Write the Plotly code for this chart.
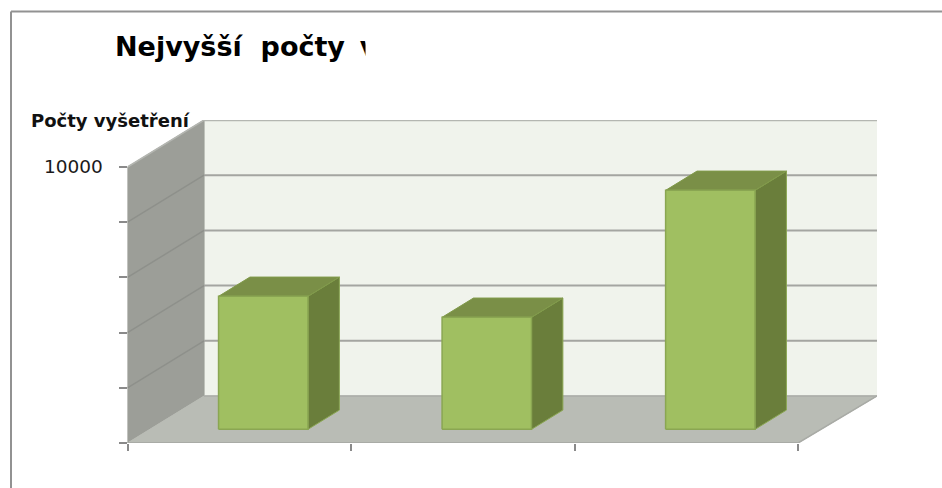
import plotly.graph_objects as go

WIDTH, HEIGHT = 942, 488

# Data
title_text = "Nejvyšší\u00a0 počty\u2009 v"
y_title = "Počty vyšetření"
bar_positions = [0, 1, 2]
bar_values = [4820, 4060, 8660]
y_ticks = [0, 2000, 4000, 6000, 8000, 10000]
y_tick_labels = ["", "", "", "", "", "10000"]
x_ticks = [0, 1, 2, 3]

# Pseudo-3D projection constants (style)
DX, DY = 0.3425, 1703
X_MAX = 3.353
BAR_L, BAR_R = 0.308, 0.708
BAR_D0, BAR_D1 = 0.29, 0.70

WALL = "#F0F3EC"
SIDE = "#9C9E98"
FLOOR = "#B9BCB5"
GRID = "#A4A5A1"
FRONT = "#A0BF61"
TOP = "#7A8F47"
RIGHT = "#6A7E3B"
EDGE = "#8AA652"


def proj(x, v, d):
    return x + d * DX, v + d * DY


def poly(points, fill, line=None, width=1):
    xs = [p[0] for p in points] + [points[0][0]]
    ys = [p[1] for p in points] + [points[0][1]]
    return go.Scatter(
        x=xs, y=ys, mode="lines", fill="toself", fillcolor=fill,
        line=dict(color=line or fill, width=width),
        hoverinfo="skip", showlegend=False,
    )


def seg(p0, p1, color=GRID, width=2):
    return go.Scatter(
        x=[p0[0], p1[0]], y=[p0[1], p1[1]], mode="lines",
        line=dict(color=color, width=width),
        hoverinfo="skip", showlegend=False,
    )


fig = go.Figure()
top_v = y_ticks[-1]

# back wall and side wall
fig.add_trace(poly([proj(0, 0, 1), (X_MAX, DY), (X_MAX, top_v + DY), proj(0, top_v, 1)], WALL))
fig.add_trace(poly([proj(0, 0, 0), proj(0, 0, 1), proj(0, top_v, 1), proj(0, top_v, 0)], SIDE))

# gridlines
for v in y_ticks[1:]:
    color = "#B4B6B1" if v == top_v else GRID
    fig.add_trace(seg(proj(0, v, 1), (X_MAX, v + DY), color, 2.5 if v == top_v else 2))
    fig.add_trace(seg(proj(0, v, 0), proj(0, v, 1), "#B4B6B1" if v == top_v else "#8E908B", 1.5))

# floor
fig.add_trace(poly([proj(0, 0, 0), proj(3, 0, 0), (X_MAX, DY), proj(0, 0, 1)], FLOOR))
fig.add_trace(seg(proj(0, 0, 0), proj(3, 0, 0), "#A9ABA6", 2))
fig.add_trace(seg(proj(3, 0, 0), (X_MAX, DY), "#A9ABA6", 1.5))
fig.add_trace(seg(proj(0, 0, 1), (X_MAX, DY), "#ABADA8", 1.5))

# bars
for pos, val in zip(bar_positions, bar_values):
    l, r = pos + BAR_L, pos + BAR_R
    fig.add_trace(poly([proj(r, 0, BAR_D0), proj(r, 0, BAR_D1), proj(r, val, BAR_D1), proj(r, val, BAR_D0)], RIGHT, EDGE))
    fig.add_trace(poly([proj(l, val, BAR_D0), proj(r, val, BAR_D0), proj(r, val, BAR_D1), proj(l, val, BAR_D1)], TOP, "#809A4A"))
    fig.add_trace(poly([proj(l, 0, BAR_D0), proj(r, 0, BAR_D0), proj(r, val, BAR_D0), proj(l, val, BAR_D0)], FRONT, EDGE, 1.5))

# clipped title: real text in its own small subplot
fig.add_trace(go.Scatter(
    x=[0], y=[0.5], mode="text", text=[f"<b>{title_text}</b>"], textposition="middle right",
    textfont=dict(family="DejaVu Sans", size=27, color="#000000"),
    cliponaxis=True, xaxis="x2", yaxis="y2", hoverinfo="skip", showlegend=False,
))

fig.update_layout(
    width=WIDTH, height=HEIGHT,
    margin=dict(l=0, r=0, t=0, b=0),
    paper_bgcolor="#FFFFFF", plot_bgcolor="rgba(0,0,0,0)",
    showlegend=False,
    xaxis=dict(
        domain=[127.5 / WIDTH, 877 / WIDTH], range=[0, X_MAX], showgrid=False, zeroline=False,
        showline=False, tickmode="array", tickvals=x_ticks, ticktext=["", "", "", ""],
        ticks="outside", ticklen=7, tickwidth=1.5, tickcolor="#8A8A8A",
    ),
    yaxis=dict(
        domain=[1 - 443 / HEIGHT, 1 - 120 / HEIGHT], range=[0, top_v + DY], showgrid=False, zeroline=False,
        showline=False, tickmode="array", tickvals=y_ticks, ticktext=y_tick_labels,
        ticks="outside", ticklen=8, tickwidth=1.5, tickcolor="#8A8A8A",
        tickfont=dict(family="DejaVu Sans", size=18.5, color="#1A1A1A"), ticklabelstandoff=12,
    ),
    xaxis2=dict(domain=[115 / WIDTH, 365.5 / WIDTH], range=[0, 1], visible=False, anchor="y2"),
    yaxis2=dict(domain=[1 - 72 / HEIGHT, 1 - 27 / HEIGHT], range=[0, 1], visible=False, anchor="x2"),
    annotations=[dict(
        text=f"<b>{y_title}</b>", xref="paper", yref="paper", x=29 / WIDTH, y=1 - 120 / HEIGHT,
        xanchor="left", yanchor="middle", showarrow=False,
        font=dict(family="DejaVu Sans", size=18, color="#111111"),
    )],
    shapes=[
        dict(type="line", xref="paper", yref="paper", x0=11 / WIDTH, x1=1, y0=1 - 11.5 / HEIGHT, y1=1 - 11.5 / HEIGHT,
             line=dict(color="#929292", width=2)),
        dict(type="line", xref="paper", yref="paper", x0=11 / WIDTH, x1=11 / WIDTH, y0=0, y1=1 - 11.5 / HEIGHT,
             line=dict(color="#929292", width=2)),
    ],
)

fig.write_html("out.html", config={"displayModeBar": False},
               post_script="document.body.style.margin='0';document.body.style.overflow='hidden';")
